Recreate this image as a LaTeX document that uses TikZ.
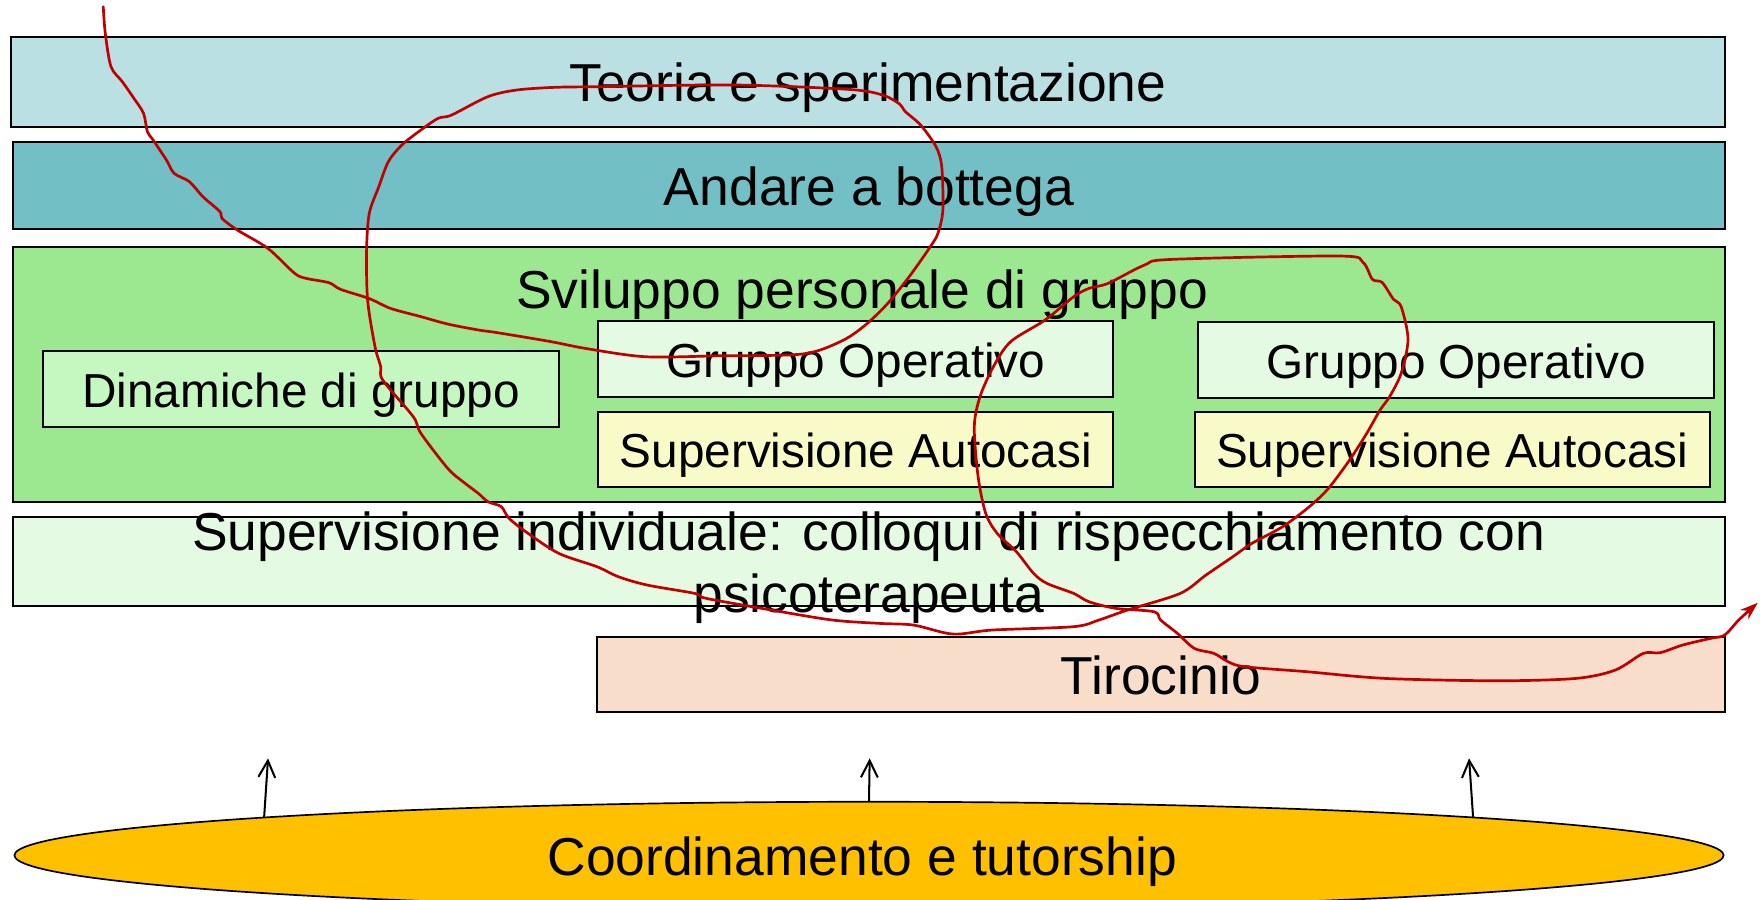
\documentclass[tikz,border=0pt]{standalone}
\usepackage{fontspec}
\setmainfont{Liberation Sans}
\usetikzlibrary{arrows.meta,shapes.geometric,calc}
\definecolor{cTeoria}{HTML}{BBE0E3}
\definecolor{cAndare}{HTML}{72BFC5}
\definecolor{cSvil}{HTML}{9BE890}
\definecolor{cDin}{HTML}{C5F7C0}
\definecolor{cGO}{HTML}{E4FAE3}
\definecolor{cSA}{HTML}{F8FBC8}
\definecolor{cTir}{HTML}{F8DDCB}
\definecolor{cCoord}{HTML}{FFC000}
\definecolor{cRed}{HTML}{C00000}
\newcommand{\bigf}{\fontsize{47.6}{56}\selectfont}
\newcommand{\smallf}{\fontsize{42.5}{51}\selectfont}
\tikzset{
  bar/.style={draw=black, line width=1.8pt, rectangle, inner sep=0pt, font=\bigf, text height=35.4pt, text depth=0pt},
  subbox/.style={draw=black, line width=1.8pt, rectangle, inner sep=0pt, font=\smallf, text height=33pt, text depth=0pt},
  uparrow/.style={line width=1.8pt, -{Straight Barb[length=15pt,width=15pt,line width=1.8pt]}},
  scribble/.style={draw=cRed, line width=2.4pt, line cap=round, line join=round, -{Stealth[length=16pt,width=11pt]}}
}
\begin{document}
\begin{tikzpicture}[x=1pt,y=-1pt]
\useasboundingbox[fill=white] (0,0) rectangle (1568,801);

\node[bar, fill=cTeoria, minimum width=1526.2pt, minimum height=80.2pt] (teoria) at (773.3,72.8) {Teoria e sperimentazione};
\node[bar, fill=cAndare, minimum width=1524.5pt, minimum height=77.5pt] (andare) at (774.15,164.95) {Andare a bottega};
\node[bar, fill=cSvil, minimum width=1524.5pt, minimum height=227.2pt] (svil) at (774.15,333.4) {};
\node[font=\bigf, anchor=base, inner sep=0pt] (sviltitle) at (768,274.5) {Sviluppo personale di gruppo};
\node[subbox, fill=cDin, minimum width=459.3pt, minimum height=67.7pt] (din) at (268.15,346.25) {Dinamiche di gruppo};
\node[subbox, fill=cGO, minimum width=458.6pt, minimum height=68pt] (goA) at (762.4,319.7) {Gruppo Operativo};
\node[subbox, fill=cSA, minimum width=458.6pt, minimum height=67.1pt] (saA) at (762.4,400.35) {Supervisione Autocasi};
\node[subbox, fill=cGO, minimum width=459.3pt, minimum height=68pt] (goB) at (1297.25,320.6) {Gruppo Operativo};
\node[subbox, fill=cSA, minimum width=459pt, minimum height=67.1pt] (saB) at (1293.7,400.35) {Supervisione Autocasi};
\node[bar, fill=cGO, minimum width=1524.5pt, minimum height=79.7pt] (supind) at (774.15,500.15) {};
\node[font=\bigf, align=center, anchor=base, inner sep=0pt] (supindtext) at (774,546) {Supervisione individuale: colloqui di rispecchiamento con\\psicoterapeuta};
\node[bar, fill=cTir, minimum width=1004.6pt, minimum height=66.8pt] (tir) at (1034.2,600.6) {Tirocinio};
\node[ellipse, draw=black, line width=1.5pt, fill=cCoord, inner sep=0pt, minimum width=1522.7pt, minimum height=95.4pt, font=\bigf, text height=35.4pt, text depth=0pt] (coord) at (774.2,762) {Coordinamento e tutorship\hspace*{12pt}};

\coordinate (t1) at (238.8,675.6);
\coordinate (t2) at (774.8,675.6);
\coordinate (t3) at (1308.8,675.6);
\draw[uparrow] ($(coord.center)+(-538.9,-33.7)$) -- (t1);
\draw[uparrow] (coord.north) -- (t2);
\draw[uparrow] ($(coord.center)+(538.2,-33.7)$) -- (t3);

\draw[scribble] plot[smooth, tension=0.5] coordinates {
(92,6) (93.8,29.7) (98.9,59.4) (109,72.8) (119.3,87.6) (127.9,101) (131.3,117.3) (136.4,124.7) (148.3,142.6) (155.1,154.4) (168.8,161.9) (180.7,175.2) (196,188.6) (197.7,194.5) (211.4,204.9) (238.7,221.3) (262.5,243.5) (272.8,248) (293.2,251.9) (303.4,257.8) (329,266) (347.8,274.7) (375,282.1) (398.9,288.7) (426.2,294) (443.2,296.4) (491,304.4) (521.6,310.4) (574.8,317.8) (640,317) (714.6,315.4) (748.6,304.4) (769.1,291.1) (789.5,271.8) (810,246.5) (828.8,219.8) (835.6,207.9) (840,187.1) (839,148.5) (833.9,130.7) (820.2,111.4) (806.6,99.5) (801.5,92.7) (786.1,84.6) (755.5,79.6) (653.2,75.7) (534.6,77.2) (494.4,77.8) (460.3,80.2) (434.7,86.1) (402.3,102.5) (390.4,105.4) (375,115.8) (358,129.2) (346,144) (337.5,166.3) (329,190.1) (326.6,222.8) (327.5,267.3) (334.1,308.9) (339.2,326.7) (341,338.6) (368.2,371.3) (375,386.1) (398.9,417.3) (412.5,429.2) (426.2,439.6) (434.7,447) (446.6,451.4) (453.5,461.8) (470.5,475.2) (497.8,493) (531.9,504.9) (550.9,513.8) (576.5,521.2) (619.1,528.7) (629.3,533.1) (687.3,543.5) (741.7,552.4) (784,555.4) (814,556.9) (849,564.9) (884,561.3) (956.5,558.3) (979,552.4) (1004.4,543.5) (1051.4,528.7) (1074.4,512.3) (1098.3,496) (1115.3,484.1) (1142.6,469.3) (1166.5,451.4) (1183.5,435.1) (1202.3,409.9) (1217.6,386.1) (1229.5,365.3) (1238,353.4) (1248.3,332.6) (1254.4,302.3) (1248.3,273.2) (1241.5,266.7) (1231.3,251.6) (1222.7,248.9) (1214.2,233.7) (1193.7,228.1) (1043.7,231.1) (1019.7,236.1) (987.3,252.4) (970.2,256.9) (956.6,264.3) (931.1,285.1) (900.4,304.4) (885,326.7) (873.1,353.4) (868,380.2) (871.4,424.7) (878.2,457.4) (888.4,475.2) (905.5,491.5) (920.8,510.8) (932.8,519.8) (956.6,528.7) (970.2,536.1) (994.1,542) (1028.2,545) (1034,552.4) (1049,564.3) (1064,577.6) (1081.5,582.1) (1094,589.5) (1109,594) (1164,598.4) (1234,604.4) (1334,606.5) (1404,604.4) (1439,597) (1464,582.1) (1479,581.5) (1499,574.7) (1524,568.7) (1536.5,565.8) (1549,552.4) (1566,537)};
\end{tikzpicture}
\end{document}
